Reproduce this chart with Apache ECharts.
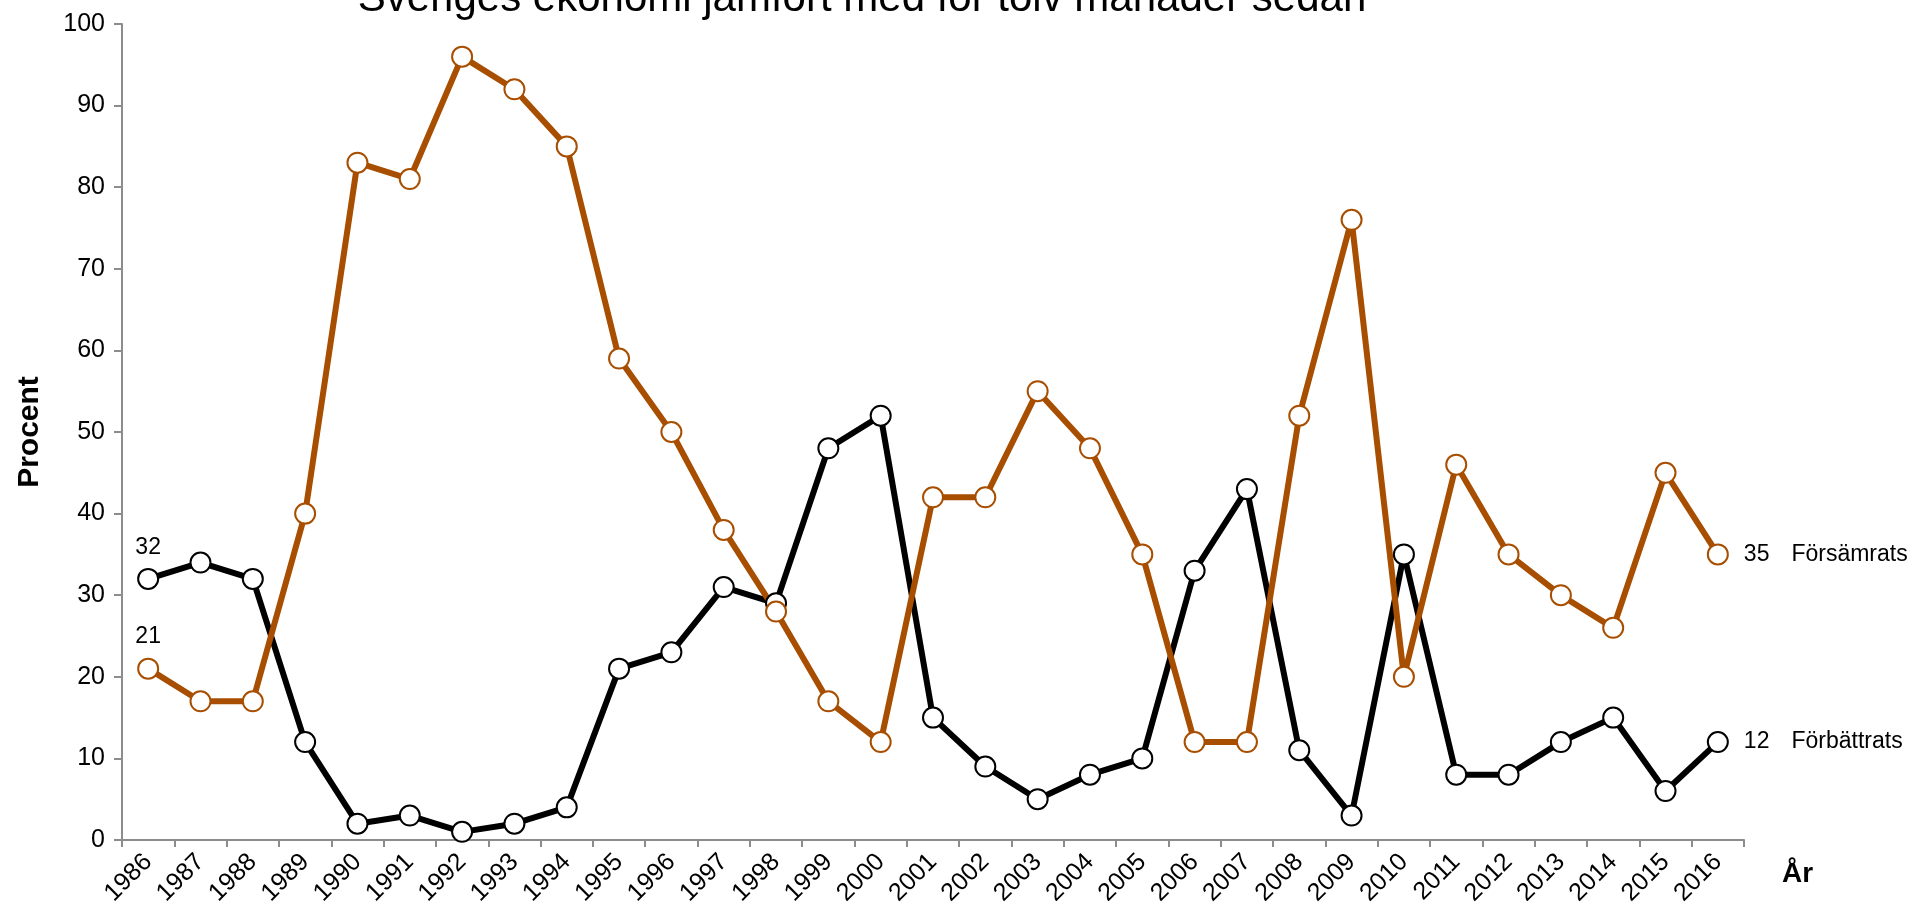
<!DOCTYPE html>
<html>
<head>
<meta charset="utf-8">
<script src="https://cdn.jsdelivr.net/npm/echarts@6/dist/echarts.min.js"></script>
<style>html,body{margin:0;padding:0;background:#fff;}#c{width:1915px;height:913px;}</style>
</head>
<body>
<div id="c"></div>
<script>
const years = ['1986','1987','1988','1989','1990','1991','1992','1993','1994','1995','1996','1997','1998','1999','2000','2001','2002','2003','2004','2005','2006','2007','2008','2009','2010','2011','2012','2013','2014','2015','2016'];
const forbattrats = [32,34,32,12,2,3,1,2,4,21,23,31,29,48,52,15,9,5,8,10,33,43,11,3,35,8,8,12,15,6,12];
const forsamrats = [21,17,17,40,83,81,96,92,85,59,50,38,28,17,12,42,42,55,48,35,12,12,52,76,20,46,35,30,26,45,35];
const yTicks = [0,10,20,30,40,50,60,70,80,90,100];
const titleText = 'Sveriges ekonomi jämfört med för tolv månader sedan';

const FONT = '"Liberation Sans", Arial, sans-serif';
const ORANGE = '#A84E00';

function mkSeries(name, data, color) {
  const last = data.length - 1;
  return {
    name: name,
    type: 'line',
    data: data.map((v, i) => {
      const item = { value: v };
      if (i === 0) {
        item.label = { show: true, position: 'top', distance: 9, formatter: String(v),
          fontSize: 23, fontFamily: FONT, color: '#000' };
      } else if (i === last) {
        item.label = { show: true, position: 'right', distance: 15,
          formatter: '{v|' + v + '}{n|' + name + '}',
          rich: { v: { fontSize: 23, fontFamily: FONT, color: '#000' },
                  n: { fontSize: 23, fontFamily: FONT, color: '#000', padding: [0, 0, 0, 22] } } };
      }
      return item;
    }),
    symbol: 'circle',
    symbolSize: 20,
    showAllSymbol: true,
    lineStyle: { color: color, width: 6 },
    itemStyle: { color: '#fff', borderColor: color, borderWidth: 2 },
    emphasis: { disabled: true },
    animation: false,
    z: 2
  };
}

const chart = echarts.init(document.getElementById('c'), null, { renderer: 'canvas' });
chart.setOption({
  backgroundColor: '#fff',
  animation: false,
  grid: { left: 122, right: 171, top: 24, bottom: 73, containLabel: false, outerBoundsMode: 'none' },
  graphic: [{
    type: 'text', x: 862, y: -22,
    style: { text: titleText, fontSize: 42, fontFamily: FONT, fill: '#000', align: 'center', verticalAlign: 'top' }
  }],
  xAxis: {
    type: 'category',
    data: years,
    boundaryGap: true,
    name: 'År',
    nameLocation: 'end',
    nameGap: 38,
    nameTextStyle: { fontSize: 28, fontWeight: 'bold', fontFamily: FONT, color: '#000',
      verticalAlign: 'top', align: 'left', padding: [20, 0, 0, 0] },
    axisLine: { lineStyle: { color: '#8c8c8c', width: 2 } },
    axisTick: { show: true, length: 7, lineStyle: { color: '#8c8c8c', width: 2 } },
    axisLabel: { rotate: 45, fontSize: 25, fontFamily: FONT, color: '#000', margin: 18, interval: 0 },
    splitLine: { show: false }
  },
  yAxis: {
    type: 'value',
    min: yTicks[0],
    max: yTicks[yTicks.length - 1],
    interval: 10,
    name: 'Procent',
    nameLocation: 'middle',
    nameRotate: 90,
    nameGap: 77,
    nameTextStyle: { fontSize: 30, fontWeight: 'bold', fontFamily: FONT, color: '#000' },
    axisLine: { show: true, lineStyle: { color: '#8c8c8c', width: 2 } },
    axisTick: { show: true, length: 8, lineStyle: { color: '#8c8c8c', width: 2 } },
    axisLabel: { fontSize: 25, fontFamily: FONT, color: '#000', margin: 17 },
    splitLine: { show: false }
  },
  series: [
    mkSeries('Förbättrats', forbattrats, '#000000'),
    mkSeries('Försämrats', forsamrats, ORANGE)
  ]
});
</script>
</body>
</html>
